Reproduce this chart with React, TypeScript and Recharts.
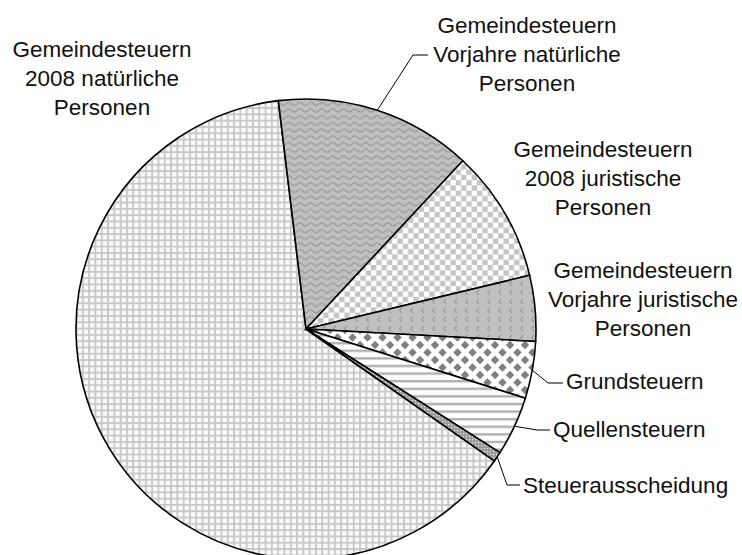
import { PieChart, Pie, Cell } from "recharts"

// Steueraufteilung (Anteile in %, aus der Grafik geschätzt)
const categories = [
  "Gemeindesteuern 2008 natürliche Personen",
  "Gemeindesteuern Vorjahre natürliche Personen",
  "Gemeindesteuern 2008 juristische Personen",
  "Gemeindesteuern Vorjahre juristische Personen",
  "Grundsteuern",
  "Quellensteuern",
  "Steuerausscheidung",
]
const values = [63.36, 13.86, 9.31, 4.61, 4.0, 4.17, 0.69]
const labelLines = [
  ["Gemeindesteuern", "2008 natürliche", "Personen"],
  ["Gemeindesteuern", "Vorjahre natürliche", "Personen"],
  ["Gemeindesteuern", "2008 juristische", "Personen"],
  ["Gemeindesteuern", "Vorjahre juristische", "Personen"],
  ["Grundsteuern"],
  ["Quellensteuern"],
  ["Steuerausscheidung"],
]

const data = categories.map((name, i) => ({ name, value: values[i] }))

const patternIds = ["pGrid", "pWave", "pCheck", "pChev", "pDiamond", "pLines", "pDots"]

// label placement, offsets relative to pie centre
// x/y = text anchor + first baseline, elbow = leader bend point
const labelLayout: any[] = [
  { x: -204, y: -272, anchor: "middle" },
  { x: 221, y: -296, anchor: "middle", elbow: [107, -274], end: [122, -274] },
  { x: 297, y: -172, anchor: "middle" },
  { x: 337, y: -51, anchor: "middle" },
  { x: 260, y: 60, anchor: "start", elbow: [242, 54], end: [257, 54] },
  { x: 247, y: 108, anchor: "start", elbow: [231, 101], end: [244, 101] },
  { x: 217, y: 164, anchor: "start", elbow: [201, 156], end: [214, 156] },
]

const FONT = "'Liberation Sans', Arial, sans-serif"
const RAD = Math.PI / 180

const renderLabel = (props: any) => {
  const { cx, cy, midAngle, outerRadius, index } = props
  const l = labelLayout[index]
  const lines = labelLines[index]
  let leader = null
  if (l.elbow) {
    const sx = cx + outerRadius * Math.cos(-midAngle * RAD)
    const sy = cy + outerRadius * Math.sin(-midAngle * RAD)
    leader = (
      <polyline
        points={`${sx},${sy} ${cx + l.elbow[0]},${cy + l.elbow[1]} ${cx + l.end[0]},${cy + l.end[1]}`}
        fill="none"
        stroke="#000"
        strokeWidth={1}
      />
    )
  }
  return (
    <g key={`lbl-${index}`}>
      {leader}
      <text
        x={cx + l.x}
        y={cy + l.y}
        textAnchor={l.anchor}
        fontFamily={FONT}
        fontSize={22.5}
        fill="#111"
      >
        {lines.map((t: string, j: number) => (
          <tspan key={j} x={cx + l.x} dy={j === 0 ? 0 : 28.8}>
            {t}
          </tspan>
        ))}
      </text>
    </g>
  )
}

export default function App() {
  return (
    <div style={{ position: "absolute", left: 0, top: 0, background: "#fff" }}>
      <PieChart width={742} height={555} margin={{ top: 0, right: 0, bottom: 0, left: 0 }}>
        <defs>
          <pattern id="pGrid" patternUnits="userSpaceOnUse" width={6.3} height={6.3}>
            <rect width={6.3} height={6.3} fill="#c8c8c8" />
            <rect x={1.9} y={1.9} width={4.4} height={4.4} fill="#fbfbfb" />
          </pattern>
          <pattern id="pWave" patternUnits="userSpaceOnUse" width={11} height={6.7}>
            <rect width={11} height={6.7} fill="#c0c0c0" />
            <path d="M0,3.35 Q2.75,0.35 5.5,3.35 T11,3.35" fill="none" stroke="#999" strokeWidth={1.3} />
          </pattern>
          <pattern id="pCheck" patternUnits="userSpaceOnUse" width={10.6} height={10.6}>
            <rect width={10.6} height={10.6} fill="#fff" />
            <rect width={5.3} height={5.3} fill="#c4c4c4" />
            <rect x={5.3} y={5.3} width={5.3} height={5.3} fill="#c4c4c4" />
          </pattern>
          <pattern id="pChev" patternUnits="userSpaceOnUse" width={11} height={9}>
            <rect width={11} height={9} fill="#c0c0c0" />
            <path d="M6,2 L3.5,4.5 L6,7" fill="none" stroke="#9c9c9c" strokeWidth={1.1} />
          </pattern>
          <pattern id="pDiamond" patternUnits="userSpaceOnUse" width={15} height={15}>
            <rect width={15} height={15} fill="#fff" />
            <path d="M7.5,3.3 L11.7,7.5 L7.5,11.7 L3.3,7.5Z" fill="#808080" />
            <path d="M0,-4.2 L4.2,0 L0,4.2 L-4.2,0Z M15,-4.2 L19.2,0 L15,4.2 L10.8,0Z M0,10.8 L4.2,15 L0,19.2 L-4.2,15Z M15,10.8 L19.2,15 L15,19.2 L10.8,15Z" fill="#808080" />
          </pattern>
          <pattern id="pLines" patternUnits="userSpaceOnUse" width={8} height={7.6}>
            <rect width={8} height={7.6} fill="#fff" />
            <rect y={0} width={8} height={2.4} fill="#b0b0b0" />
          </pattern>
          <pattern id="pDots" patternUnits="userSpaceOnUse" width={3} height={3}>
            <rect width={3} height={3} fill="#9a9a9a" />
            <rect x={1} y={1} width={1.2} height={1.2} fill="#eeeeee" />
          </pattern>
        </defs>
        <Pie
          data={data}
          dataKey="value"
          nameKey="name"
          cx={306}
          cy={329}
          outerRadius={230}
          startAngle={-35}
          endAngle={-395}
          stroke="#000"
          strokeWidth={1.6}
          label={renderLabel}
          labelLine={false}
          isAnimationActive={false}
        >
          {data.map((d, i) => (
            <Cell key={d.name} fill={`url(#${patternIds[i]})`} />
          ))}
        </Pie>
      </PieChart>
    </div>
  )
}
